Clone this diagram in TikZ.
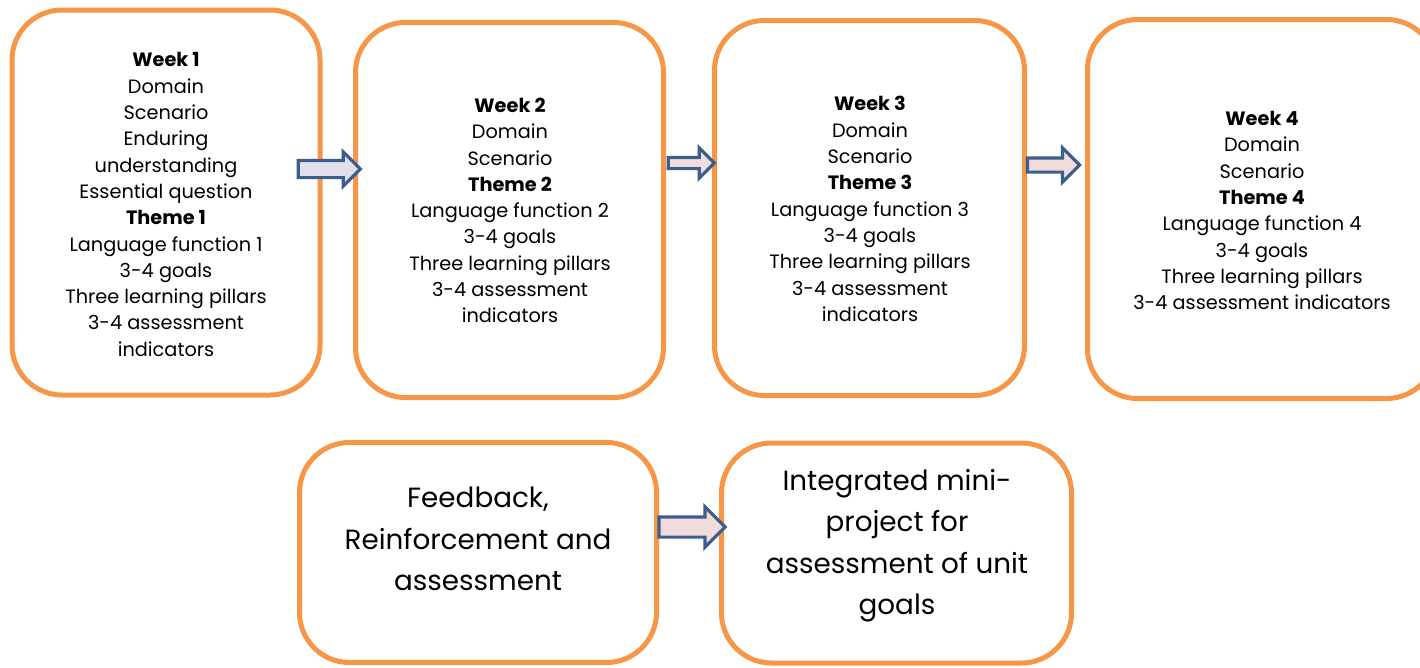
\documentclass[tikz,border=0pt]{standalone}
\usepackage{fontspec}
\setmainfont{Poppins}
\usetikzlibrary{shapes.arrows}
\definecolor{boxorange}{HTML}{F79646}
\definecolor{arrowblue}{HTML}{3B5E8C}
\definecolor{lavfill}{HTML}{E1DEEC}
\definecolor{pinkfill}{HTML}{F2DCDB}
\tikzset{
  weekbox/.style={draw=boxorange, line width=5pt, rounded corners=50pt, fill=white, inner sep=0pt, rectangle},
  weektext/.style={align=center, inner sep=0pt, font=\fontsize{19.3}{26.3}\selectfont},
  bigtext/.style={align=center, inner sep=0pt, font=\fontsize{27.8}{41.5}\selectfont},
  blockarrow/.style={single arrow, draw=arrowblue, line width=3.2pt, inner xsep=0pt, single arrow head indent=0pt, shape border rotate=0, minimum width=0pt},
}
\begin{document}
\begin{tikzpicture}[x=1pt, y=-1pt]
\useasboundingbox (0,0) rectangle (1420,667);
\clip (0,0) rectangle (1420,667);
% boxes
\node[weekbox, minimum width=308pt, minimum height=385pt] (b1) at (166,202.5) {};
\node[weekbox, minimum width=308pt, minimum height=375pt] (b2) at (509.5,210) {};
\node[weekbox, minimum width=310pt, minimum height=375pt] (b3) at (869.5,208) {};
\node[weekbox, minimum width=349pt, minimum height=379pt] (b4) at (1262,209) {};
\node[weekbox, minimum width=357pt, minimum height=220pt] (b5) at (478,552.5) {};
\node[weekbox, minimum width=350pt, minimum height=220pt] (b6) at (896.5,553) {};
% texts
\node[weektext] (t1) at (166,204.5) {\textbf{Week 1}\\Domain\\Scenario\\Enduring\\understanding\\Essential question\\\textbf{Theme 1}\\Language function 1\\3-4 goals\\Three learning pillars\\3-4 assessment\\indicators};
\node[weektext] (t2) at (510,210.5) {\textbf{Week 2}\\Domain\\Scenario\\\textbf{Theme 2}\\Language function 2\\3-4 goals\\Three learning pillars\\3-4 assessment\\indicators};
\node[weektext] (t3) at (870,209) {\textbf{Week 3}\\Domain\\Scenario\\\textbf{Theme 3}\\Language function 3\\3-4 goals\\Three learning pillars\\3-4 assessment\\indicators};
\node[weektext] (t4) at (1262,210.5) {\textbf{Week 4}\\Domain\\Scenario\\\textbf{Theme 4}\\Language function 4\\3-4 goals\\Three learning pillars\\3-4 assessment indicators};
\node[bigtext] (t5) at (478,539) {Feedback,\\Reinforcement and\\assessment};
\node[bigtext] (t6) at (897,545.5) {Integrated mini-\\project for\\assessment of unit\\goals};
% block arrows
\node[blockarrow, fill=lavfill, inner ysep=7pt, single arrow head extend=8.5pt, minimum height=62pt] (a1) at (325,169) {};
\node[blockarrow, fill=pinkfill, inner ysep=4pt, single arrow head extend=9.5pt, minimum height=46pt] (a2) at (688.5,163) {};
\node[blockarrow, fill=pinkfill, inner ysep=5.5pt, single arrow head extend=10pt, minimum height=52pt] (a3) at (1050,165) {};
\node[blockarrow, fill=pinkfill, inner ysep=8.5pt, single arrow head extend=10pt, minimum height=66pt] (a4) at (687,527) {};
\end{tikzpicture}
\end{document}
